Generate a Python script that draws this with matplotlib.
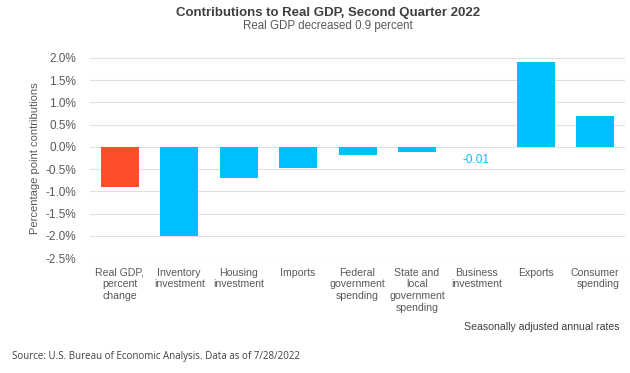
import matplotlib
matplotlib.use("Agg")
import matplotlib.pyplot as plt
from matplotlib.ticker import FuncFormatter

plt.rcParams['font.family'] = ['Liberation Sans', 'DejaVu Sans']

# data
categories = ["Real GDP,\npercent\nchange", "Inventory\ninvestment", "Housing\ninvestment",
              "Imports", "Federal\ngovernment\nspending", "State and\nlocal\ngovernment\nspending",
              "Business\ninvestment", "Exports", "Consumer\nspending"]
values = [-0.9, -2.01, -0.7, -0.48, -0.18, -0.12, -0.01, 1.91, 0.70]
colors = ["#FF4D2B"] + ["#00BFFF"] * 8
yticks = [2.0, 1.5, 1.0, 0.5, 0.0, -0.5, -1.0, -1.5, -2.0, -2.5]

grey = "#595959"

fig = plt.figure(figsize=(6.3, 3.73), dpi=100)
ax = fig.add_axes([0.143, 0.308, 0.849, 0.537])

x = range(len(categories))
ax.bar(x, values, width=0.64, color=colors, zorder=3)

ax.set_ylim(-2.5, 2.0)
ax.set_xlim(-0.5, len(categories) - 0.5)
ax.set_yticks(yticks)
ax.yaxis.set_major_formatter(FuncFormatter(lambda v, p: f"{v:.1f}%"))
ax.grid(axis="y", color="#E0E0E0", linewidth=0.8, zorder=0)
for s in ax.spines.values():
    s.set_visible(False)
ax.tick_params(axis="y", length=0, labelsize=8.5, labelcolor=grey, pad=10)
ax.tick_params(axis="x", length=0, labelsize=7.6, labelcolor=grey, pad=7)
ax.set_xticks(list(x))
ax.set_xticklabels(categories, va="top", linespacing=1.2)
ax.get_xticklabels()[-1].set_multialignment("right")
ax.set_ylabel("Percentage point contributions", fontsize=8, color=grey, labelpad=4)

# label for the tiny bar
ax.text(6, values[6] - 0.15, f"{values[6]:.2f}", ha="center", va="top",
        fontsize=8.5, color="#00BFFF")

fig.text(0.52, 0.965, "Contributions to Real GDP, Second Quarter 2022", ha="center",
         va="center", fontsize=9.5, fontweight="bold", color="#404040")
fig.text(0.52, 0.93, "Real GDP decreased 0.9 percent", ha="center", va="center",
         fontsize=8.3, color=grey)
fig.text(0.984, 0.123, "Seasonally adjusted annual rates", ha="right", va="center",
         fontsize=7.6, color="#404040")
fig.text(0.019, 0.043, "Source: U.S. Bureau of Economic Analysis. Data as of 7/28/2022",
         ha="left", va="center", fontsize=7, color="#404040", family=["Open Sans", "DejaVu Sans"])

fig.savefig("out.png", dpi=100, facecolor="white")
